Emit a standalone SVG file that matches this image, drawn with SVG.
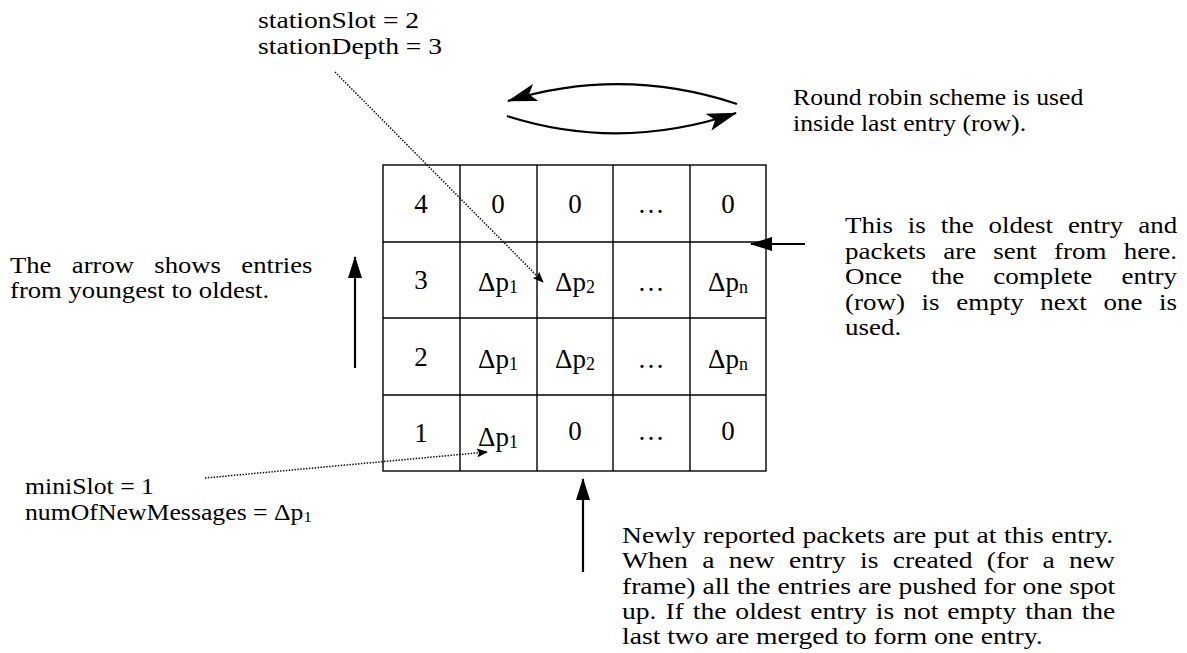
<svg xmlns="http://www.w3.org/2000/svg" width="1187" height="653" viewBox="0 0 1187 653">
  <style>
    text { font-family: "Liberation Serif", "Times New Roman", serif; fill: #000; }
    .body { font-size: 23px; }
    .cell { font-size: 27px; text-anchor: middle; }
    .sub { font-size: 18px; }
    .bsub { font-size: 15px; }
    .grid line, .grid rect { stroke: #000; stroke-width: 1.4; fill: none; }
    .dotted { stroke: #000; stroke-width: 1.5; stroke-dasharray: 1.4 1.5; fill: none; }
    .solid { stroke: #000; stroke-width: 2.2; fill: none; }
  </style>
  <defs>
    <marker id="bigHead" viewBox="0 0 22 14" refX="21" refY="7" markerWidth="22" markerHeight="14" orient="auto" markerUnits="userSpaceOnUse">
      <path d="M0,0 L22,7 L0,14 z" fill="#000"/>
    </marker>
    <marker id="curveHead" viewBox="0 0 30 18" refX="29" refY="9" markerWidth="30" markerHeight="18" orient="auto" markerUnits="userSpaceOnUse">
      <path d="M0,0 L30,9 L0,18 L7,9 z" fill="#000"/>
    </marker>
    <marker id="dotHead" viewBox="0 0 11 9" refX="10" refY="4.5" markerWidth="11" markerHeight="9" orient="auto" markerUnits="userSpaceOnUse">
      <path d="M0,0 L11,4.5 L0,9 L2,4.5 z" fill="#000"/>
    </marker>
  </defs>

  <!-- annotation: stationSlot / stationDepth (type set slightly wide) -->
  <g id="station-label" transform="translate(258 0) scale(1.2 1)">
    <text class="body" x="0" y="28">stationSlot = 2</text>
    <text class="body" x="0" y="54">stationDepth = 3</text>
  </g>

  <!-- annotation: round robin -->
  <g id="round-robin-label" transform="translate(793 0) scale(1.12 1)">
    <text class="body" x="0" y="105">Round robin scheme is used</text>
    <text class="body" x="0" y="131">inside last entry (row).</text>
  </g>

  <!-- entry table -->
  <g id="entry-table" class="grid">
    <rect x="383" y="165" width="383" height="306"/>
    <line x1="460" y1="165" x2="460" y2="471"/>
    <line x1="537" y1="165" x2="537" y2="471"/>
    <line x1="613" y1="165" x2="613" y2="471"/>
    <line x1="690" y1="165" x2="690" y2="471"/>
    <line x1="383" y1="242" x2="766" y2="242"/>
    <line x1="383" y1="318" x2="766" y2="318"/>
    <line x1="383" y1="395" x2="766" y2="395"/>
  </g>

  <g id="row-4">
    <text class="cell" x="421" y="213">4</text>
    <text class="cell" x="498" y="213">0</text>
    <text class="cell" x="575" y="213">0</text>
    <text class="cell" x="651" y="213">…</text>
    <text class="cell" x="728" y="213">0</text>
  </g>
  <g id="row-3">
    <text class="cell" x="421" y="289">3</text>
    <text class="cell" x="498" y="291">Δp<tspan class="sub" dy="2">1</tspan></text>
    <text class="cell" x="575" y="291">Δp<tspan class="sub" dy="2">2</tspan></text>
    <text class="cell" x="651" y="291">…</text>
    <text class="cell" x="728" y="291">Δp<tspan class="sub" dy="2">n</tspan></text>
  </g>
  <g id="row-2">
    <text class="cell" x="421" y="366">2</text>
    <text class="cell" x="498" y="368">Δp<tspan class="sub" dy="2">1</tspan></text>
    <text class="cell" x="575" y="368">Δp<tspan class="sub" dy="2">2</tspan></text>
    <text class="cell" x="651" y="368">…</text>
    <text class="cell" x="728" y="368">Δp<tspan class="sub" dy="2">n</tspan></text>
  </g>
  <g id="row-1">
    <text class="cell" x="421" y="442">1</text>
    <text class="cell" x="498" y="446">Δp<tspan class="sub" dy="2">1</tspan></text>
    <text class="cell" x="575" y="440">0</text>
    <text class="cell" x="651" y="440">…</text>
    <text class="cell" x="728" y="440">0</text>
  </g>

  <!-- annotation: oldest entry (justified lines via word-spacing) -->
  <g id="oldest-entry-label" transform="translate(845 0) scale(1.174 1)">
    <text class="body" x="0" y="233" word-spacing="6.9">This is the oldest entry and</text>
    <text class="body" x="0" y="259" word-spacing="8.9">packets are sent from here.</text>
    <text class="body" x="0" y="284" word-spacing="19.1">Once the complete entry</text>
    <text class="body" x="0" y="310" word-spacing="8.4">(row) is empty next one is</text>
    <text class="body" x="0" y="335">used.</text>
  </g>

  <!-- annotation: age direction -->
  <g id="age-label" transform="translate(10 0) scale(1.16 1)">
    <text class="body" x="0" y="273" word-spacing="11.8">The arrow shows entries</text>
    <text class="body" x="0" y="298">from youngest to oldest.</text>
  </g>

  <!-- annotation: miniSlot -->
  <g id="minislot-label" transform="translate(25 0) scale(1.12 1)">
    <text class="body" x="0" y="494">miniSlot = 1</text>
    <text class="body" x="0" y="520">numOfNewMessages = Δp<tspan class="bsub" dy="2">1</tspan></text>
  </g>

  <!-- annotation: new packets (justified lines via word-spacing) -->
  <g id="new-packets-label" transform="translate(622 0) scale(1.2 1)">
    <text class="body" x="0" y="543" word-spacing="0.5">Newly reported packets are put at this entry.</text>
    <text class="body" x="0" y="568" word-spacing="6.2">When a new entry is created (for a new</text>
    <text class="body" x="0" y="594">frame) all the entries are pushed for one spot</text>
    <text class="body" x="0" y="619" word-spacing="1.7">up. If the oldest entry is not empty than the</text>
    <text class="body" x="0" y="644">last two are merged to form one entry.</text>
  </g>

  <!-- connectors -->
  <g id="connectors">
    <path class="dotted" d="M335,72 L543,282" marker-end="url(#dotHead)"/>
    <path class="dotted" d="M205,478 L487,452" marker-end="url(#dotHead)"/>
    <path class="solid" d="M737,104 Q622,66 508,101" marker-end="url(#curveHead)"/>
    <path class="solid" d="M507,116 Q620,152 736,113" marker-end="url(#curveHead)"/>
    <path class="solid" d="M355,368 L355,257" marker-end="url(#bigHead)"/>
    <path class="solid" d="M805,244 L751,244" marker-end="url(#bigHead)"/>
    <path class="solid" d="M583,572 L583,479" marker-end="url(#bigHead)"/>
  </g>
</svg>
